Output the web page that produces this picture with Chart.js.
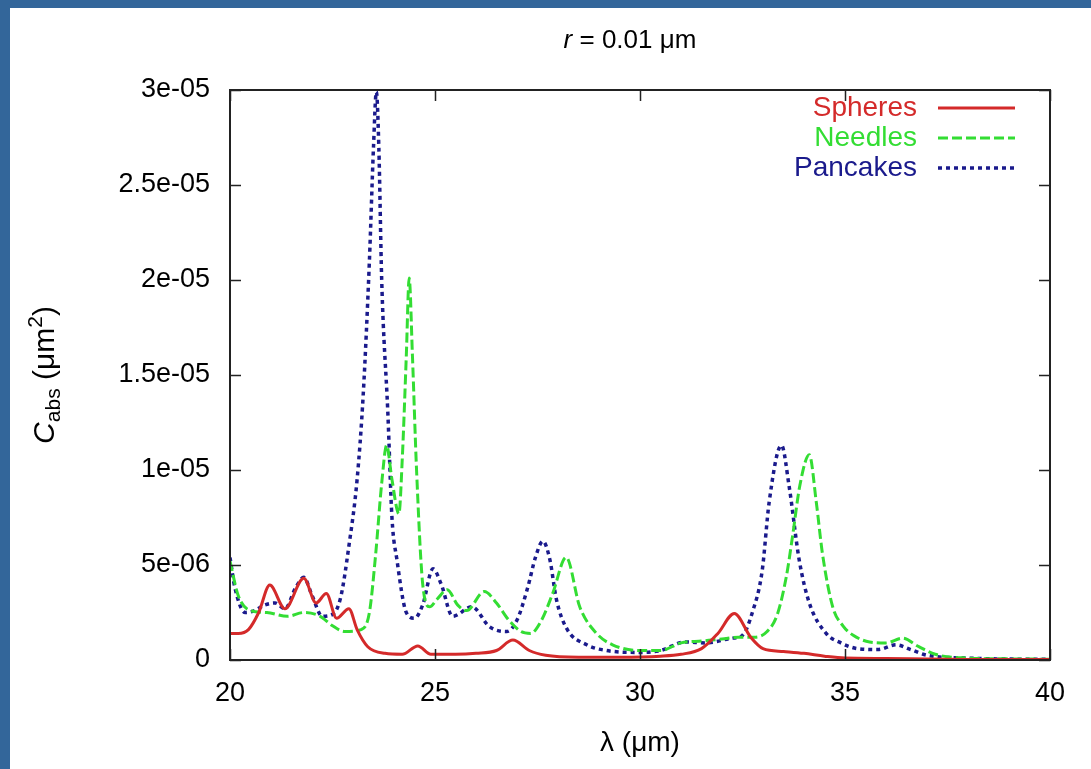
<!DOCTYPE html>
<html>
<head>
<meta charset="utf-8">
<script src="https://cdn.jsdelivr.net/npm/chart.js@4"></script>
<style>
  html, body { margin: 0; padding: 0; background: #33669a; width: 1091px; height: 769px; overflow: hidden; }
  #wrap { position: absolute; left: 10px; top: 8px; width: 1081px; height: 761px; background: #fff; }
</style>
</head>
<body>
<div id="wrap"><canvas id="cabsChart" width="1081" height="761"></canvas></div>
<script>
// values, C_abs in units of 1e-06 um^2
const sphereLambda = [20, 20.2, 20.45, 20.7, 20.97, 21.34, 21.8, 22.1, 22.35, 22.6, 22.9, 23.1, 23.36, 23.78, 24.2, 24.58, 24.9, 25.5, 26.0, 26.5, 26.9, 27.3, 27.7, 28.5, 29.5, 30.5, 31.0, 31.5, 31.9, 32.3, 32.7, 33.0, 33.5, 34.0, 34.5, 35.0, 36.0, 37.0, 38.0, 40.0];
const sphereCabs = [1.4, 1.4, 1.6, 2.5, 3.95, 2.7, 4.3, 3.0, 3.5, 2.2, 2.7, 1.6, 0.7, 0.35, 0.3, 0.74, 0.3, 0.3, 0.35, 0.5, 1.05, 0.5, 0.25, 0.15, 0.15, 0.2, 0.3, 0.6, 1.4, 2.45, 1.2, 0.6, 0.45, 0.35, 0.2, 0.1, 0.08, 0.05, 0.03, 0.02];

const needleLambda = [20, 20.2, 20.5, 20.9, 21.4, 21.8, 22.2, 22.5, 22.8, 23.2, 23.4, 23.55, 23.7, 23.82, 23.95, 24.12, 24.2, 24.3, 24.37, 24.45, 24.55, 24.7, 24.87, 25.05, 25.3, 25.55, 25.77, 26.2, 26.5, 26.8, 27.1, 27.33, 27.6, 27.87, 28.2, 28.53, 28.94, 29.33, 30.0, 30.5, 31.0, 31.5, 32.0, 32.4, 32.8, 33.1, 33.35, 33.57, 33.72, 33.9, 34.13, 34.3, 34.45, 34.7, 34.95, 35.2, 35.6, 36.0, 36.4, 36.8, 37.2, 38.0, 39.0, 40.0];
const needleCabs = [5.2, 3.4, 2.6, 2.5, 2.3, 2.5, 2.3, 1.8, 1.5, 1.6, 2.5, 5.5, 9.3, 11.3, 9.5, 7.7, 10.5, 16, 20.1, 16, 10, 4, 2.8, 3.2, 3.7, 2.9, 2.6, 3.6, 3.0, 2.1, 1.5, 1.4, 2.1, 3.5, 5.4, 2.8, 1.4, 0.8, 0.5, 0.5, 0.9, 1.0, 1.1, 1.2, 1.2, 1.5, 2.4, 4.4, 6.5, 9.2, 10.8, 8.3, 5.6, 2.8, 1.8, 1.3, 0.95, 0.9, 1.15, 0.7, 0.3, 0.1, 0.06, 0.04];

const pancakeLambda = [20, 20.12, 20.37, 20.6, 20.85, 21.1, 21.34, 21.6, 21.8, 22.0, 22.25, 22.5, 22.7, 22.9, 23.1, 23.25, 23.4, 23.5, 23.57, 23.63, 23.7, 23.85, 23.95, 24.07, 24.3, 24.5, 24.7, 24.95, 25.15, 25.43, 25.9, 26.33, 26.75, 27.0, 27.26, 27.45, 27.63, 27.8, 27.96, 28.2, 28.7, 29.18, 30.0, 30.5, 31.1, 31.6, 32.25, 32.5, 32.74, 32.98, 33.15, 33.45, 33.64, 33.88, 34.13, 34.54, 34.9, 35.3, 35.8, 36.25, 36.6, 37.0, 38.0, 39.0, 40.0];
const pancakeCabs = [5.4, 3.8, 2.5, 2.6, 2.9, 3.0, 2.7, 3.8, 4.35, 3.4, 2.3, 2.4, 3.3, 6.0, 9.5, 14, 21, 27, 29.9, 27, 20, 13, 7.5, 5.3, 2.5, 2.2, 2.9, 4.8, 4.0, 2.3, 2.8, 1.75, 1.5, 2.1, 3.8, 5.4, 6.25, 5.3, 3.2, 1.7, 0.8, 0.5, 0.4, 0.5, 0.95, 0.9, 1.15, 1.3, 2.5, 4.7, 8.3, 11.3, 9.1, 5.3, 3.0, 1.4, 0.9, 0.6, 0.55, 0.8, 0.55, 0.25, 0.1, 0.05, 0.04];

const xTicks = [20, 25, 30, 35, 40];
const yTickLabels = ['0', '5e-06', '1e-05', '1.5e-05', '2e-05', '2.5e-05', '3e-05'];
const seriesNames = ['Spheres', 'Needles', 'Pancakes'];

const FONT = '"Liberation Sans", Arial, Helvetica, sans-serif';

function pairs(xs, ys) {
    return xs.map(function(x, i) { return {x: x, y: ys[i]}; });
}

// gnuplot style: frame, inward ticks on all four sides
const framePlugin = {
    id: 'frame',
    afterDatasetsDraw: function(chart) {
        const ctx = chart.ctx;
        const a = chart.chartArea;
        const xs = chart.scales.x, ys = chart.scales.y;
        const tl = 11;
        ctx.save();
        ctx.strokeStyle = '#222';
        ctx.lineWidth = 1.5;
        ctx.beginPath();
        xTicks.forEach(function(v) {
            const px = Math.round(xs.getPixelForValue(v)) + 0.5;
            ctx.moveTo(px, a.bottom); ctx.lineTo(px, a.bottom - tl);
            ctx.moveTo(px, a.top); ctx.lineTo(px, a.top + tl);
        });
        yTickLabels.forEach(function(_, i) {
            const py = Math.round(ys.getPixelForValue(i * 5)) + 0.5;
            ctx.moveTo(a.left, py); ctx.lineTo(a.left + tl, py);
            ctx.moveTo(a.right, py); ctx.lineTo(a.right - tl, py);
        });
        ctx.stroke();
        ctx.lineWidth = 2;
        ctx.strokeRect(a.left, a.top, a.right - a.left, a.bottom - a.top);
        ctx.restore();
    }
};

// legend: text right aligned, then line sample (gnuplot key)
const keyPlugin = {
    id: 'key',
    afterDatasetsDraw: function(chart) {
        const ctx = chart.ctx;
        ctx.save();
        ctx.font = '28px ' + FONT;
        ctx.textAlign = 'right';
        ctx.textBaseline = 'middle';
        chart.data.datasets.forEach(function(ds, i) {
            const y = 100 + i * 30;
            ctx.fillStyle = ds.borderColor;
            ctx.fillText(ds.label, 907, y);
            ctx.strokeStyle = ds.borderColor;
            ctx.lineWidth = ds.borderWidth;
            ctx.setLineDash(ds.borderDash || []);
            ctx.beginPath();
            ctx.moveTo(928, y);
            ctx.lineTo(1005, y);
            ctx.stroke();
        });
        ctx.restore();
    }
};

// title and axis labels with italic / sub / superscript parts
const labelPlugin = {
    id: 'labels',
    afterDraw: function(chart) {
        const ctx = chart.ctx;
        const a = chart.chartArea;
        function runs(parts, cx, cy) {
            let w = 0;
            parts.forEach(function(p) { ctx.font = p.f; w += ctx.measureText(p.t).width; });
            let x = cx - w / 2;
            parts.forEach(function(p) {
                ctx.font = p.f;
                ctx.fillText(p.t, x, cy + (p.dy || 0));
                x += ctx.measureText(p.t).width;
            });
        }
        ctx.save();
        ctx.fillStyle = '#000';
        ctx.textAlign = 'left';
        ctx.textBaseline = 'middle';
        runs([{t: 'r', f: 'italic 26px ' + FONT}, {t: ' = 0.01 \u03bcm', f: '26px ' + FONT}], 620, 33);
        runs([{t: '\u03bb (\u03bcm)', f: '28px ' + FONT}], (a.left + a.right) / 2, 735);
        ctx.translate(36, (a.top + a.bottom) / 2);
        ctx.rotate(-Math.PI / 2);
        runs([
            {t: 'C', f: 'italic 30px ' + FONT},
            {t: 'abs', f: '21px ' + FONT, dy: 8},
            {t: ' (\u03bcm', f: '30px ' + FONT},
            {t: '2', f: '21px ' + FONT, dy: -10},
            {t: ')', f: '30px ' + FONT}
        ], 0, 0);
        ctx.restore();
    }
};

const ctx = document.getElementById('cabsChart').getContext('2d');

new Chart(ctx, {
    type: 'line',
    data: {
        datasets: [{
            label: seriesNames[0],
            data: pairs(sphereLambda, sphereCabs),
            borderColor: '#d42a2a',
            borderWidth: 3
        }, {
            label: seriesNames[1],
            data: pairs(needleLambda, needleCabs),
            borderColor: '#33dd33',
            borderWidth: 3,
            borderDash: [10, 4]
        }, {
            label: seriesNames[2],
            data: pairs(pancakeLambda, pancakeCabs),
            borderColor: '#1a1a8c',
            borderWidth: 3.5,
            borderDash: [4, 4]
        }]
    },
    options: {
        responsive: false,
        animation: false,
        events: [],
        datasets: {
            line: { pointRadius: 0, cubicInterpolationMode: 'monotone', fill: false }
        },
        layout: { padding: { left: 0, top: 82, right: 41, bottom: 0 } },
        plugins: {
            legend: { display: false },
            title: { display: false },
            tooltip: { enabled: false }
        },
        scales: {
            x: {
                type: 'linear',
                min: 20,
                max: 40,
                grid: { display: false, drawTicks: false },
                border: { display: false },
                afterFit: function(s) { s.height = 109; },
                afterBuildTicks: function(s) { s.ticks = xTicks.map(function(v) { return {value: v}; }); },
                ticks: {
                    padding: 17,
                    color: '#000',
                    font: { family: FONT, size: 27 },
                    maxRotation: 0
                }
            },
            y: {
                type: 'linear',
                min: 0,
                max: 30,
                grid: { display: false, drawTicks: false },
                border: { display: false },
                afterFit: function(s) { s.width = 220; },
                ticks: {
                    stepSize: 5,
                    padding: 20,
                    color: '#000',
                    font: { family: FONT, size: 27 },
                    callback: function(v) { return yTickLabels[Math.round(v / 5)]; }
                }
            }
        }
    },
    plugins: [framePlugin, keyPlugin, labelPlugin]
});
</script>
</body>
</html>
